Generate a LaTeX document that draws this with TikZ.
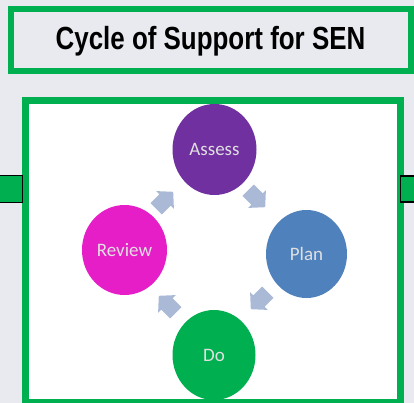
\documentclass[tikz,border=0pt]{standalone}
\usepackage{fontspec}
\usetikzlibrary{shapes.geometric}
\newfontfamily\titlefont[FakeStretch=0.81]{Liberation Sans}
\newfontfamily\circfont{Carlito}
\definecolor{bgc}{RGB}{232,234,240}
\definecolor{boxgreen}{RGB}{0,176,80}
\definecolor{cpurple}{RGB}{112,48,160}
\definecolor{cblue}{RGB}{79,129,189}
\definecolor{cmagenta}{RGB}{230,30,200}
\definecolor{cgreen}{RGB}{0,176,80}
\definecolor{arrowc}{RGB}{170,186,214}
\tikzset{
  stagecirc/.style={ellipse, inner sep=0pt,
    text=white!88!black, font=\circfont\fontsize{19}{19}\selectfont},
  cyclearrow/.pic={
    \fill[arrowc] (-11,-8) -- (1.5,-8) -- (1.5,-12.5) -- (13,0) -- (1.5,12.5) -- (1.5,8) -- (-11,8) -- cycle;
  },
  sidetab/.style={fill=boxgreen, draw=black, line width=1.5pt},
}
\begin{document}
\begin{tikzpicture}[x=1pt,y=-1pt]
\useasboundingbox (0,0) rectangle (414,403);
\fill[bgc] (0,0) rectangle (414,403);
% title box
\draw[boxgreen, line width=6pt, fill=bgc] (11,9) rectangle (410.5,71);
\node[anchor=base, font=\titlefont\bfseries\fontsize{32}{32}\selectfont] (title) at (210.5,50) {Cycle of Support for SEN};
% main box
\draw[boxgreen, line width=7pt, fill=white] (25.5,100.5) rectangle (400.5,402.5);
% side tabs
\draw[sidetab] (-2,175.5) rectangle (22.5,202.5);
\draw[sidetab] (400.5,176) rectangle (416,202);
% circles
\node[stagecirc, fill=cpurple, minimum width=84pt, minimum height=91pt] (assess) at (214.5,149.5) {Assess};
\node[stagecirc, fill=cblue, minimum width=81pt, minimum height=88pt] (plan) at (306.5,254) {Plan};
\node[stagecirc, fill=cmagenta, minimum width=85pt, minimum height=90pt] (review) at (124.5,250) {Review};
\node[stagecirc, fill=cgreen, minimum width=83pt, minimum height=90pt] (do) at (214,355) {Do};
% cycle arrows
\pic[rotate=45] (a1) at (164,201) {cyclearrow};
\pic[rotate=-45] (a2) at (256,198) {cyclearrow};
\pic[rotate=-135] (a3) at (260,300) {cyclearrow};
\pic[rotate=135] (a4) at (168,305) {cyclearrow};
\end{tikzpicture}
\end{document}
